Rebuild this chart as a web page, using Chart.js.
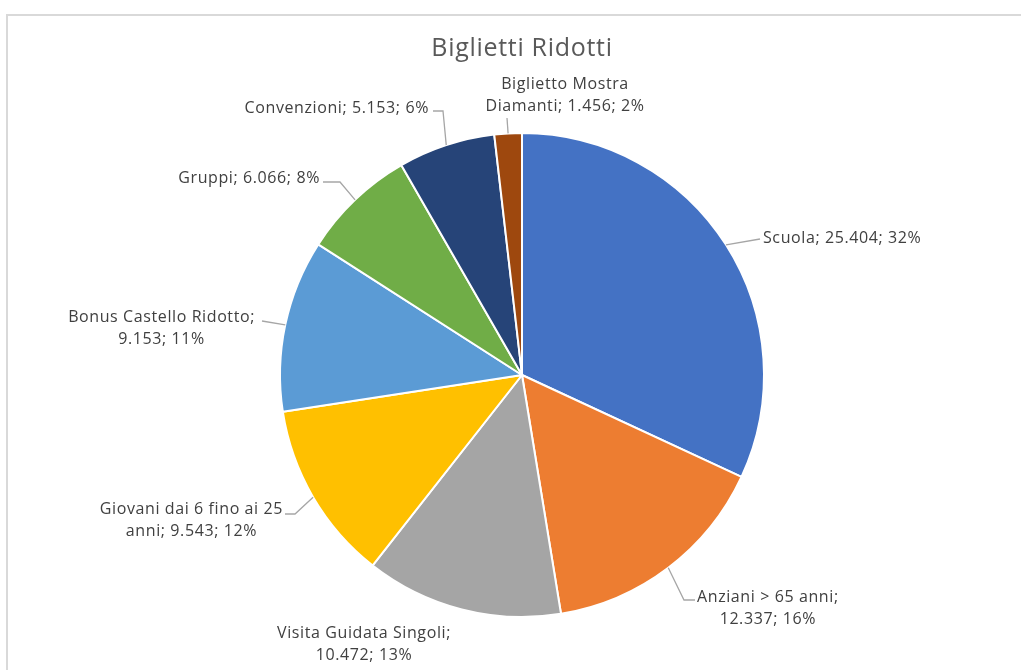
<!DOCTYPE html>
<html>
<head>
<meta charset="utf-8">
<script src="https://cdn.jsdelivr.net/npm/chart.js@4.4.0/dist/chart.umd.min.js"></script>
<style>
  html, body { margin: 0; padding: 0; background: #fff; overflow: hidden; }
  #wrap { position: relative; width: 1021px; height: 670px; }
  #frame { position: absolute; left: 6px; top: 14px; width: 1040px; height: 700px; border: 2px solid #d9d9d9; }
  #chart { position: absolute; left: 0; top: 0; }
</style>
</head>
<body>
<div id="wrap">
  <div id="frame"></div>
  <canvas id="chart" width="1021" height="670"></canvas>
</div>
<script>
// data
const chartTitle = "Biglietti Ridotti";
const categories = [
  "Scuola",
  "Anziani > 65 anni",
  "Visita Guidata Singoli",
  "Giovani dai 6 fino ai 25 anni",
  "Bonus Castello Ridotto",
  "Gruppi",
  "Convenzioni",
  "Biglietto Mostra Diamanti"
];
const values = [25404, 12337, 10472, 9543, 9153, 6066, 5153, 1456];
const percents = [32, 16, 13, 12, 11, 8, 6, 2];
const colors = ["#4472C4", "#ED7D31", "#A5A5A5", "#FFC000", "#5B9BD5", "#70AD47", "#264478", "#9E480E"];

// label placement (box anchor, alignment, wrap width, leader bend points)
const labelLayout = [
  { x: 763, y: 238, align: "left",   wrap: 1000, leader: [[760, 239]] },
  { x: 697, y: 597, align: "left",   wrap: 160,  leader: [[684, 600], [695, 600]] },
  { x: 364, y: 633, align: "center", wrap: 185,  leader: [] },
  { x: 283, y: 509, align: "right",  wrap: 200,  leader: [[295, 514], [285, 514]] },
  { x: 255, y: 317, align: "right",  wrap: 200,  leader: [[262, 321]] },
  { x: 320, y: 178, align: "right",  wrap: 1000, leader: [[340, 182], [323, 182]] },
  { x: 429, y: 108, align: "right",  wrap: 1000, leader: [[443, 111], [433, 111]] },
  { x: 565, y: 84,  align: "center", wrap: 165,  leader: [[507, 118]] }
];

const labelFont = "16px 'Open Sans'";
const lineGap = 22;

function fmt(n) {
  return String(n).replace(/\B(?=(\d{3})+(?!\d))/g, ".");
}

function wrapText(ctx, text, maxW) {
  const words = text.split(" ");
  const lines = [];
  let cur = "";
  words.forEach(w => {
    const test = cur ? cur + " " + w : w;
    if (cur && ctx.measureText(test).width > maxW) {
      lines.push(cur);
      cur = w;
    } else {
      cur = test;
    }
  });
  if (cur) lines.push(cur);
  return lines;
}

const outsideLabels = {
  id: "outsideLabels",
  afterDatasetsDraw(chart) {
    const ctx = chart.ctx;
    const meta = chart.getDatasetMeta(0);
    ctx.save();

    // title
    ctx.font = "25px 'Open Sans'";
    ctx.letterSpacing = "0.7px";
    ctx.fillStyle = "#595959";
    ctx.textAlign = "center";
    ctx.textBaseline = "middle";
    ctx.fillText(chartTitle, 522, 49);

    meta.data.forEach((arc, i) => {
      const lay = labelLayout[i];
      const mid = (arc.startAngle + arc.endAngle) / 2;
      const sx = arc.x + Math.cos(mid) * arc.outerRadius;
      const sy = arc.y + Math.sin(mid) * arc.outerRadius;

      if (lay.leader.length) {
        ctx.strokeStyle = "#a6a6a6";
        ctx.lineWidth = 1.3;
        ctx.beginPath();
        ctx.moveTo(sx, sy);
        lay.leader.forEach(p => ctx.lineTo(p[0], p[1]));
        ctx.stroke();
      }

      ctx.font = labelFont;
      ctx.letterSpacing = "0.6px";
      ctx.fillStyle = "#404040";
      ctx.textBaseline = "middle";
      ctx.textAlign = "center";
      const text = categories[i] + "; " + fmt(values[i]) + "; " + percents[i] + "%";
      const lines = wrapText(ctx, text, lay.wrap);
      const boxW = Math.max(...lines.map(l => ctx.measureText(l).width));
      let cx = lay.x;
      if (lay.align === "left") cx = lay.x + boxW / 2;
      if (lay.align === "right") cx = lay.x - boxW / 2;
      lines.forEach((l, k) => ctx.fillText(l, cx, lay.y + k * lineGap));
    });
    ctx.restore();
  }
};

new Chart(document.getElementById("chart"), {
  type: "pie",
  data: {
    labels: categories,
    datasets: [{
      data: values,
      backgroundColor: colors,
      borderColor: "#ffffff",
      borderWidth: 2
    }]
  },
  options: {
    responsive: false,
    animation: false,
    events: [],
    layout: {
      padding: { left: 279, right: 256, top: 132, bottom: 52 }
    },
    plugins: {
      legend: { display: false },
      tooltip: { enabled: false },
      title: { display: false }
    }
  },
  plugins: [outsideLabels]
});
</script>
</body>
</html>
